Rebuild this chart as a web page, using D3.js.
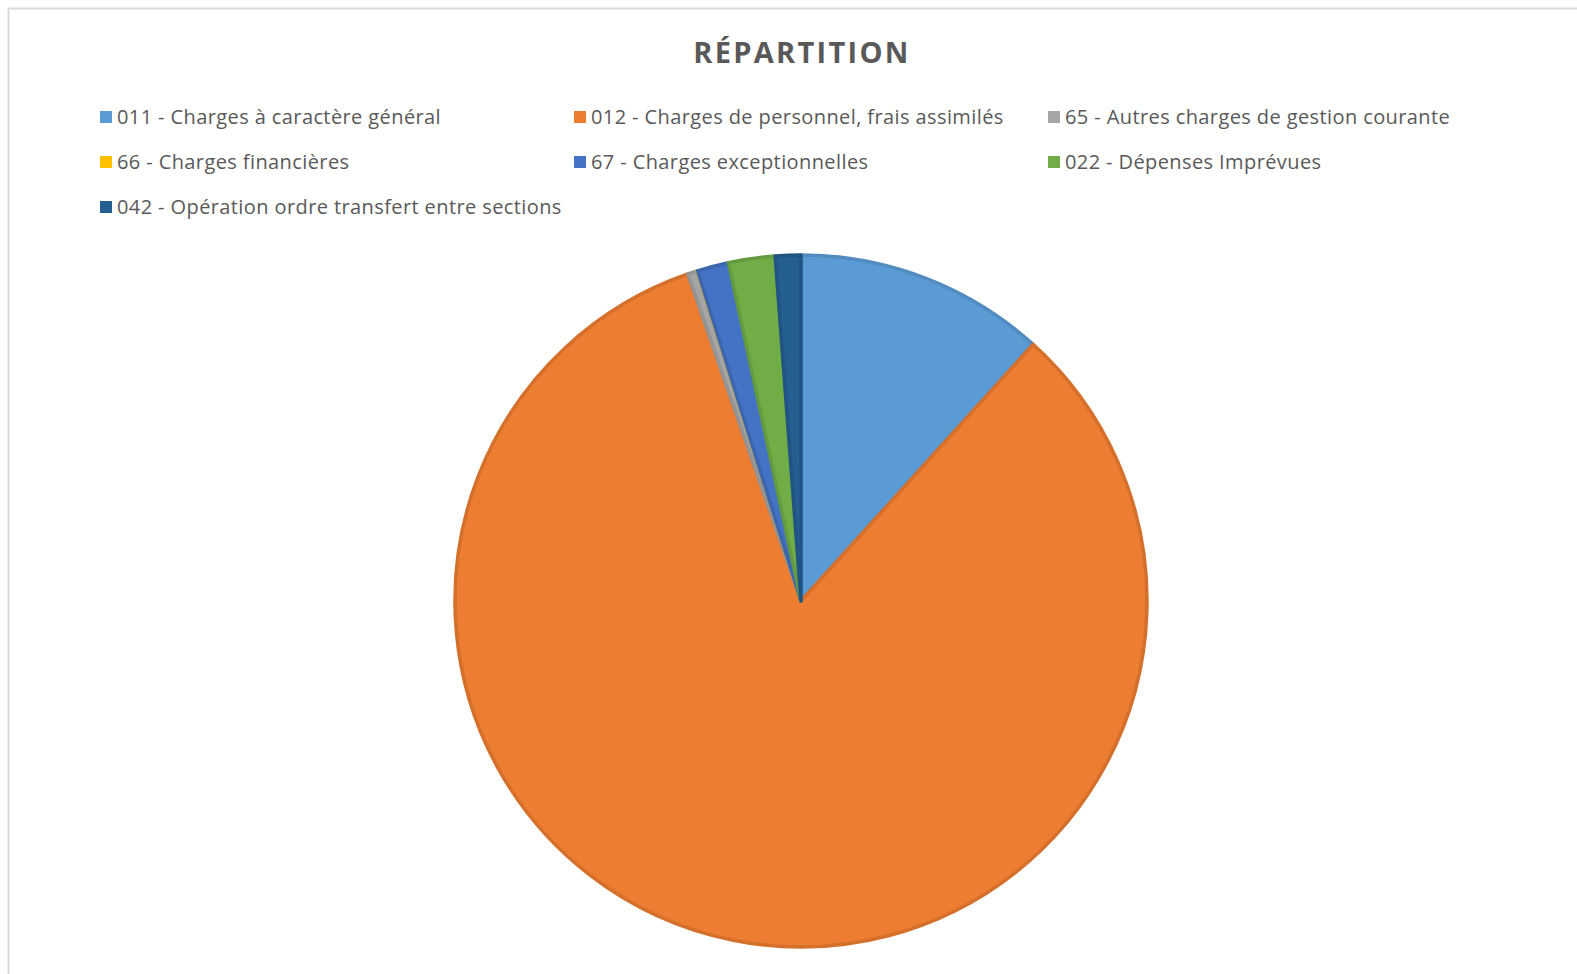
<!DOCTYPE html>
<html lang="fr">
<head>
<meta charset="UTF-8">
<title>Répartition</title>
<script src="https://d3js.org/d3.v7.min.js"></script>
<style>
  body { margin: 0; background: #fff; }
  text { font-family: "Open Sans", "Noto Sans", sans-serif; fill: #595959; }
</style>
</head>
<body>
<script>
const width = 1577;
const height = 974;

// data (share of total, %)
const categories = [
  "011 - Charges à caractère général",
  "012 - Charges de personnel, frais assimilés",
  "65 - Autres charges de gestion courante",
  "66 - Charges financières",
  "67 - Charges exceptionnelles",
  "022 - Dépenses Imprévues",
  "042 - Opération ordre transfert entre sections"
];
const values = [11.7, 83.0, 0.45, 0.02, 1.47, 2.17, 1.19];
const colors = ["#5B9BD5", "#ED7D31", "#A5A5A5", "#FFC000", "#4472C4", "#70AD47", "#255E91"];

const data = categories.map((c, i) => ({ name: c, value: values[i] }));

const svg = d3.select("body").append("svg")
  .attr("width", width)
  .attr("height", height);

// chart area border
svg.append("rect")
  .attr("x", 8.5).attr("y", 8.5)
  .attr("width", width + 20).attr("height", height + 20)
  .attr("fill", "none")
  .attr("stroke", "#d9d9d9")
  .attr("stroke-width", 2);

svg.append("text")
  .attr("x", 802).attr("y", 63)
  .attr("text-anchor", "middle")
  .style("font-size", "29px")
  .style("font-weight", "bold")
  .style("letter-spacing", "2.3px")
  .text("RÉPARTITION");

const color = d3.scaleOrdinal().domain(categories).range(colors);

// legend: 3 columns
const colX = [100, 574, 1048];
const rowY = [117, 162, 207];
const legend = svg.append("g");
const item = legend.selectAll("g")
  .data(data)
  .enter().append("g")
  .attr("transform", (d, i) => `translate(${colX[i % 3]},${rowY[Math.floor(i / 3)]})`);
item.append("rect")
  .attr("x", 0).attr("y", -6)
  .attr("width", 12).attr("height", 12)
  .attr("fill", d => color(d.name));
item.append("text")
  .attr("x", 17).attr("y", 7)
  .style("font-size", "20px")
  .style("letter-spacing", "0.4px")
  .text(d => d.name);

// pie
const cx = 801, cy = 601, r = 346;
const pie = d3.pie().value(d => d.value).sort(null);
const arc = d3.arc().innerRadius(0).outerRadius(r);

svg.append("g")
  .attr("transform", `translate(${cx},${cy})`)
  .selectAll("path")
  .data(pie(data))
  .enter().append("path")
  .attr("d", arc)
  .attr("fill", d => color(d.data.name))
  .attr("stroke", d => d3.color(color(d.data.name)).darker(0.3))
  .attr("stroke-width", 3.5)
  .attr("stroke-linejoin", "round");
</script>
</body>
</html>
